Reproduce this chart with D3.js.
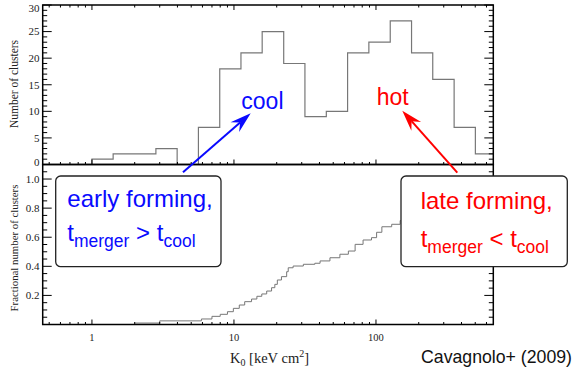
<!DOCTYPE html>
<html><head><meta charset="utf-8">
<script src="https://cdn.jsdelivr.net/npm/d3@7"></script>
<style>body{margin:0;background:#fff}svg{display:block}</style></head>
<body><svg id="c" width="575" height="368"></svg>
<script>
// ---- data ----
const binEdges = [1.0, 1.41, 2.0, 2.82, 3.98, 5.62, 7.94, 11.2, 15.8, 22.4, 31.6, 44.7, 63.1, 89.1, 126, 178, 251, 355, 501, 708];
const binCounts = [1, 2, 2, 3, 0, 7, 18, 21, 25, 19, 9, 10, 21, 23, 27, 21, 16, 7, 2];
const cumK = [2.0, 3.0, 5.9, 7.0, 8.0, 9.0, 9.9, 10.9, 11.9, 13.3, 14.5, 15.7, 17.0, 18.4, 19.4, 20.2, 21.6, 23.5, 24.1, 26.1, 30.8, 37.1, 40.4, 47.4, 55.7, 63.9, 71.3, 81.1, 93.0, 101, 110, 129, 148, 170, 210, 260, 330, 420, 520, 640];
const cumFrac = [0.010, 0.025, 0.038, 0.056, 0.070, 0.088, 0.111, 0.134, 0.157, 0.175, 0.194, 0.210, 0.230, 0.253, 0.276, 0.306, 0.329, 0.363, 0.390, 0.402, 0.414, 0.421, 0.437, 0.459, 0.483, 0.505, 0.551, 0.581, 0.597, 0.634, 0.672, 0.689, 0.714, 0.76, 0.83, 0.88, 0.93, 0.96, 0.985, 1.0];
const xMajorTicks = [1, 10, 100];
const topMajorTicks = [0, 5, 10, 15, 20, 25, 30];
const botMajorTicks = [0.2, 0.4, 0.6, 0.8, 1.0];
const topYLabel = "Number of clusters";
const botYLabel = "Fractional number of clusters";
const creditText = "Cavagnolo+ (2009)";

// ---- layout ----
const L = 42.7, R = 493.3, T = 5, M = 164.5, B = 324.5;
const svg = d3.select("#c");
const x = d3.scaleLog().domain([0.45, 670]).range([L, R]);
const yTop = d3.scaleLinear().domain([0, 30]).range([M, T]);
const yBot = d3.scaleLinear().domain([0, 1.1]).range([B, M]);
const serif = "'Liberation Serif','Times New Roman',serif";
const sans = "'Liberation Sans',Arial,sans-serif";

const defs = svg.append("defs");
defs.append("clipPath").attr("id", "clipTop").append("rect").attr("x", L).attr("y", T).attr("width", R - L).attr("height", M - T);
defs.append("clipPath").attr("id", "clipBot").append("rect").attr("x", L).attr("y", M).attr("width", R - L).attr("height", B - M);

// histogram (step outline)
const histPts = [{k: binEdges[0], c: 0}];
binCounts.forEach((c, i) => histPts.push({k: binEdges[i], c}));
histPts.push({k: binEdges[binEdges.length - 1], c: binCounts[binCounts.length - 1]});
histPts.push({k: binEdges[binEdges.length - 1], c: 0});
const histLine = d3.line().x(d => x(d.k)).y(d => yTop(d.c)).curve(d3.curveStepAfter);
svg.append("path").attr("clip-path", "url(#clipTop)").attr("d", histLine(histPts))
  .attr("fill", "none").attr("stroke", "#777").attr("stroke-width", 1.2);

// cumulative fraction (step)
const cumPts = cumK.map((k, i) => ({k, f: cumFrac[i]}));
cumPts.push({k: 670, f: cumFrac[cumFrac.length - 1]});
const cumLine = d3.line().x(d => x(d.k)).y(d => yBot(d.f)).curve(d3.curveStepAfter);
svg.append("path").attr("clip-path", "url(#clipBot)").attr("d", cumLine(cumPts))
  .attr("fill", "none").attr("stroke", "#777").attr("stroke-width", 1);

// ---- axes ----
const xAll = x.ticks();
const isMajorX = v => Math.abs(Math.log10(v) - Math.round(Math.log10(v))) < 1e-9;
const xMinor = xAll.filter(v => !isMajorX(v));

function xTicks(yPos, dir) { // dir -1 up, +1 down
  const g = svg.append("g").attr("stroke", "#000").attr("stroke-width", 1);
  g.selectAll(null).data(xMinor).join("line")
    .attr("x1", d => x(d)).attr("x2", d => x(d)).attr("y1", yPos).attr("y2", yPos + dir * 2.5);
  g.selectAll(null).data(xMajorTicks).join("line")
    .attr("x1", d => x(d)).attr("x2", d => x(d)).attr("y1", yPos).attr("y2", yPos + dir * 5);
}
xTicks(T, 1); xTicks(M, -1); xTicks(B, -1);

function yTicks(scale, minor, major) {
  const g = svg.append("g").attr("stroke", "#000").attr("stroke-width", 1);
  [[L, 1], [R, -1]].forEach(([xp, dir]) => {
    g.selectAll(null).data(minor).join("line")
      .attr("x1", xp).attr("x2", xp + dir * 4.5).attr("y1", d => scale(d)).attr("y2", d => scale(d));
    g.selectAll(null).data(major).join("line")
      .attr("x1", xp).attr("x2", xp + dir * 9).attr("y1", d => scale(d)).attr("y2", d => scale(d));
  });
}
yTicks(yTop, d3.range(1, 30).filter(v => v % 5 !== 0), topMajorTicks);
yTicks(yBot, d3.range(1, 22).map(v => v * 0.05).filter(v => Math.abs(v / 0.2 - Math.round(v / 0.2)) > 1e-6), botMajorTicks);

// frames
svg.append("rect").attr("x", L).attr("y", T).attr("width", R - L).attr("height", M - T)
  .attr("fill", "none").attr("stroke", "#000").attr("stroke-width", 1.5);
svg.append("rect").attr("x", L).attr("y", M).attr("width", R - L).attr("height", B - M)
  .attr("fill", "none").attr("stroke", "#000").attr("stroke-width", 1.5);

// tick labels
svg.append("g").selectAll("text").data(topMajorTicks).join("text")
  .attr("x", 39.5).attr("y", d => yTop(d) + (d === 30 ? 3.3 : d === 0 ? -2.5 : 0)).attr("dy", "0.35em")
  .attr("text-anchor", "end").attr("font-family", serif).attr("font-size", 11).attr("fill", "#222")
  .text(d => d);
svg.append("g").selectAll("text").data(botMajorTicks).join("text")
  .attr("x", 39.5).attr("y", d => yBot(d)).attr("dy", "0.35em")
  .attr("text-anchor", "end").attr("font-family", serif).attr("font-size", 11).attr("fill", "#222")
  .text(d => d3.format(".1f")(d));
svg.append("g").selectAll("text").data(xMajorTicks).join("text")
  .attr("x", d => x(d)).attr("y", 341)
  .attr("text-anchor", "middle").attr("font-family", serif).attr("font-size", 10.5).attr("fill", "#222")
  .text(d => d);

// axis titles
svg.append("text").attr("transform", "translate(18,84) rotate(-90)").attr("text-anchor", "middle")
  .attr("font-family", serif).attr("font-size", 11.5).attr("fill", "#222").text(topYLabel);
svg.append("text").attr("transform", "translate(17.5,248) rotate(-90)").attr("text-anchor", "middle")
  .attr("font-family", serif).attr("font-size", 10.8).attr("fill", "#222").text(botYLabel);
const xt = svg.append("text").attr("x", 230).attr("y", 363).attr("font-family", serif).attr("font-size", 14.5).attr("fill", "#222");
xt.append("tspan").text("K");
xt.append("tspan").attr("font-size", 10).attr("dy", 3).text("0");
xt.append("tspan").attr("dy", -3).text(" [keV cm");
xt.append("tspan").attr("font-size", 10).attr("dy", -6).text("2");
xt.append("tspan").attr("dy", 6).text("]");

svg.append("text").attr("x", 572).attr("y", 363).attr("text-anchor", "end")
  .attr("font-family", sans).attr("font-size", 17.7).attr("fill", "#111").text(creditText);

// ---- annotations ----
const BLUE = "#0a0aff", RED = "#ff0000";
function arrow(x1, y1, x2, y2, color) {
  const dx = x2 - x1, dy = y2 - y1, len = Math.hypot(dx, dy);
  const ux = dx / len, uy = dy / len, nx = -uy, ny = ux;
  const Lh = 21, Wh = 6.5, Ln = 14;
  svg.append("line").attr("x1", x1).attr("y1", y1).attr("x2", x2 - ux * Ln).attr("y2", y2 - uy * Ln)
    .attr("stroke", color).attr("stroke-width", 2);
  const p = [[x2, y2], [x2 - ux * Lh + nx * Wh, y2 - uy * Lh + ny * Wh], [x2 - ux * Ln, y2 - uy * Ln], [x2 - ux * Lh - nx * Wh, y2 - uy * Lh - ny * Wh]];
  svg.append("path").attr("d", "M" + p.map(q => q.join(",")).join("L") + "Z").attr("fill", color);
}
arrow(183, 172.3, 250.7, 113.3, BLUE);
arrow(457.3, 172.7, 402.3, 110.7, RED);

svg.append("text").attr("x", 241.3).attr("y", 109).attr("font-family", sans).attr("font-size", 23).attr("fill", BLUE).text("cool");
svg.append("text").attr("x", 376.7).attr("y", 105).attr("font-family", sans).attr("font-size", 23).attr("fill", RED).text("hot");

function box(bx, by, bw, bh, color, line1, tx, b1, b2, subDy, rel) {
  svg.append("rect").attr("x", bx).attr("y", by).attr("width", bw).attr("height", bh).attr("rx", 5)
    .attr("fill", "#fff").attr("stroke", "#222").attr("stroke-width", 1.3);
  svg.append("text").attr("x", tx).attr("y", b1).attr("font-family", sans).attr("font-size", 24).attr("fill", color).text(line1);
  const t = svg.append("text").attr("x", tx).attr("y", b2).attr("font-family", sans).attr("font-size", 24).attr("fill", color);
  t.append("tspan").text("t");
  t.append("tspan").attr("font-size", 17.5).attr("dy", subDy).text("merger");
  t.append("tspan").attr("dy", -subDy).text(" " + rel + " t");
  t.append("tspan").attr("font-size", 17.5).attr("dy", subDy).text("cool");
}
box(55.7, 176, 165.3, 90.7, BLUE, "early forming,", 67.3, 207, 241, 5.5, ">");
box(401, 176, 166.3, 90.7, RED, "late forming,", 420.7, 209.3, 247, 6, "<");
</script></body></html>
